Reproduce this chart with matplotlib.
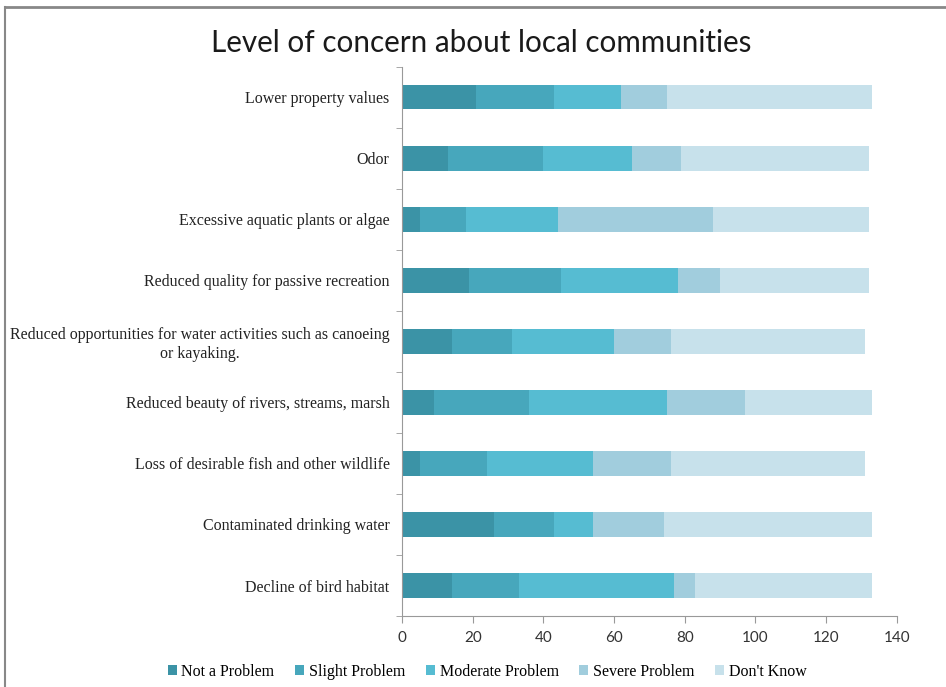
import matplotlib.pyplot as plt
from matplotlib.lines import Line2D
import numpy as np

categories = [
    "Lower property values",
    "Odor",
    "Excessive aquatic plants or algae",
    "Reduced quality for passive recreation",
    "Reduced opportunities for water activities such as canoeing\nor kayaking.",
    "Reduced beauty of rivers, streams, marsh",
    "Loss of desirable fish and other wildlife",
    "Contaminated drinking water",
    "Decline of bird habitat",
]
series_names = ["Not a Problem", "Slight Problem", "Moderate Problem",
                "Severe Problem", "Don't Know"]
not_a_problem = [21, 13, 5, 19, 14, 9, 5, 26, 14]
slight_problem = [22, 27, 13, 26, 17, 27, 19, 17, 19]
moderate_problem = [19, 25, 26, 33, 29, 39, 30, 11, 44]
severe_problem = [13, 14, 44, 12, 16, 22, 22, 20, 6]
dont_know = [58, 53, 44, 42, 55, 36, 55, 59, 50]
colors = ["#3b93a6", "#47a7bc", "#56bcd2", "#a1cddd", "#c7e1eb"]

serif = ["Liberation Serif", "DejaVu Serif"]
sans = ["Lato", "DejaVu Sans"]

fig = plt.figure(figsize=(9.46, 6.87), dpi=100)
ax = fig.add_axes([0.425, 0.1033, 0.523, 0.7995])

series = [not_a_problem, slight_problem, moderate_problem, severe_problem, dont_know]
y = np.arange(len(categories))
left = np.zeros(len(categories))
for vals, name, c in zip(series, series_names, colors):
    ax.barh(y, vals, left=left, height=0.4, color=c, label=name)
    left += np.array(vals)

ax.set_ylim(len(categories) - 0.5, -0.5)
ax.set_xlim(0, 140)
ax.set_xticks(np.arange(0, 141, 20))
ax.set_yticks(y)
ax.set_yticklabels(categories, fontfamily=serif, fontsize=11.5, color="#222222")
for t in ax.get_yticklabels():
    t.set_multialignment("center")
ax.set_yticks(np.arange(-0.5, len(categories), 1), minor=True)
ax.tick_params(axis="y", which="major", length=0, pad=9)
ax.tick_params(axis="y", which="minor", length=4, color="#999999")
ax.tick_params(axis="x", length=5, color="#999999", labelsize=11, pad=6)
for t in ax.get_xticklabels():
    t.set_fontfamily(sans)
    t.set_color("#333333")

for s in ["top", "right"]:
    ax.spines[s].set_visible(False)
for s in ["left", "bottom"]:
    ax.spines[s].set_color("#999999")

fig.text(0.509, 0.938, "Level of concern about local communities",
         ha="center", va="center", fontsize=21.3, fontfamily=sans, color="#1a1a1a")

leg = fig.legend(loc="center", bbox_to_anchor=(0.515, 0.022), ncol=5, frameon=False,
                 handlelength=0.55, handleheight=0.55, handletextpad=0.3,
                 columnspacing=1.3, prop={"family": serif, "size": 11.5})

# frame edges of the panel
fig.add_artist(Line2D([0.005, 1.0], [0.99, 0.99], color="#888888", lw=2,
                      transform=fig.transFigure))
fig.add_artist(Line2D([0.005, 0.005], [0.0, 0.99], color="#888888", lw=1.5,
                      transform=fig.transFigure))

fig.savefig("out.png", dpi=100)
